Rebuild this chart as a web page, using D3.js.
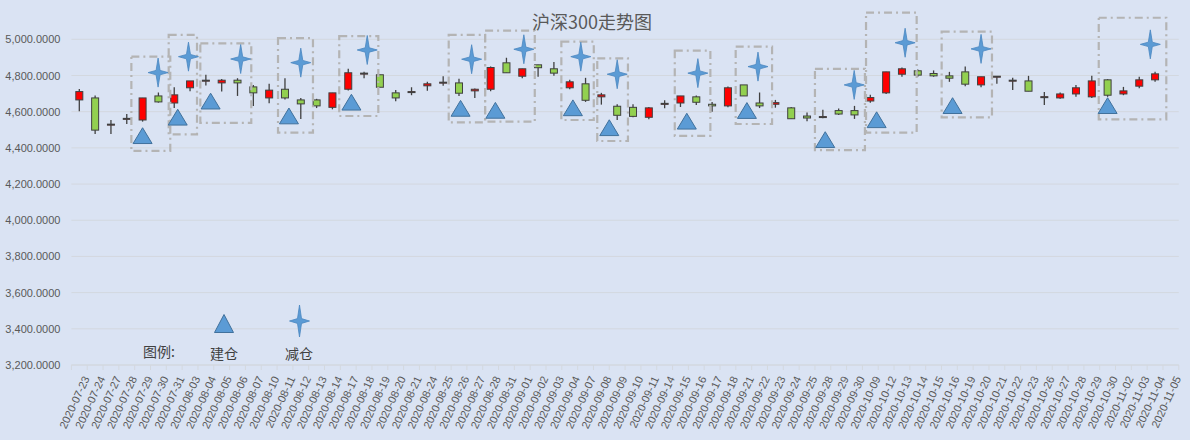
<!DOCTYPE html>
<html>
<head>
<meta charset="utf-8">
<script src="https://cdn.jsdelivr.net/npm/d3@7"></script>
<style>
  body { margin: 0; background: #dae3f3; }
  svg { display: block; }
  .grid line { stroke: #d3d8df; }
  .ylab { font: 11px "Liberation Sans", Arial, sans-serif; fill: #595959; }
  .xlab { font: 11px "Liberation Sans", Arial, sans-serif; fill: #595959; }
  .title { font: 18px "Noto Sans CJK SC", sans-serif; fill: #595959; }
  .legend { font: 14px "Noto Sans CJK SC", sans-serif; fill: #404040; }
</style>
</head>
<body>
<div id="chart"></div>
<script>
var w = 1190;
var h = 440;

// trading days on the category axis
var dates = ["2020-07-23","2020-07-24","2020-07-27","2020-07-28","2020-07-29","2020-07-30","2020-07-31",
  "2020-08-03","2020-08-04","2020-08-05","2020-08-06","2020-08-07","2020-08-10","2020-08-11","2020-08-12",
  "2020-08-13","2020-08-14","2020-08-17","2020-08-18","2020-08-19","2020-08-20","2020-08-21","2020-08-24",
  "2020-08-25","2020-08-26","2020-08-27","2020-08-28","2020-08-31","2020-09-01","2020-09-02","2020-09-03",
  "2020-09-04","2020-09-07","2020-09-08","2020-09-09","2020-09-10","2020-09-11","2020-09-14","2020-09-15",
  "2020-09-16","2020-09-17","2020-09-18","2020-09-21","2020-09-22","2020-09-23","2020-09-24","2020-09-25",
  "2020-09-28","2020-09-29","2020-09-30","2020-10-09","2020-10-12","2020-10-13","2020-10-14","2020-10-15",
  "2020-10-16","2020-10-19","2020-10-20","2020-10-21","2020-10-22","2020-10-23","2020-10-26","2020-10-27",
  "2020-10-28","2020-10-29","2020-10-30","2020-11-02","2020-11-03","2020-11-04","2020-11-05"];

// open, high, low, close (null = no candle)
var opens  = [4665,4676,4530,4563,4554,4687,4648,4732,4774,4759,4774,4737,4676,4724,4665,4665,4624,4724,4813,4804,
  4704,4711,4743,4763,4759,4715,4724,4870,4796,4859,4837,4732,4754,4682,4630,4624,4569,4646,4648,4682,
  4641,4632,4748,4648,4641,4621,4576,4573,4606,4606,4659,4704,4807,4826,4811,4798,4820,4748,4796,4774,
  4770,4683,4676,4698,4682,4776,4698,4741,4776,null];
var highs  = [4726,4689,4554,4587,4676,4706,4735,4770,4804,4780,4785,4748,4754,4785,4676,4671,4704,4837,4820,4804,
  4720,4735,4765,4796,4782,4728,4850,4898,4837,4859,4874,4776,4787,4704,4641,4641,4626,4663,4687,4689,
  4654,4739,4748,4706,4665,4626,4595,4611,4617,4632,4693,4820,4844,4833,4828,4820,4850,4793,4796,4787,
  4798,4709,4706,4748,4798,4780,4737,4793,4820,null];
var lows   = [4602,4476,4476,4532,4545,4650,4620,4713,4745,4711,4687,4632,4646,4667,4560,4620,4613,4717,4785,4735,
  4658,4691,4715,4743,4687,4676,4713,4815,4785,4793,4798,4724,4654,4639,4554,4569,4558,4619,4626,4637,
  4600,4624,4687,4620,4622,4561,4547,4563,4582,4560,4650,4698,4793,4793,4793,4765,4741,4735,4754,4720,
  4713,4637,4672,4682,4676,4682,4691,4730,4765,null];
var closes = [4711,4498,4531,4563,4676,4654,4693,4770,4774,4774,4759,4704,4719,4676,4643,4632,4704,4815,4813,4735,
  4676,4711,4754,4763,4702,4724,4844,4815,4837,4843,4813,4765,4663,4693,4580,4574,4621,4646,4687,4652,
  4632,4732,4687,4632,4650,4561,4565,4573,4587,4582,4678,4820,4837,4802,4798,4785,4752,4793,4796,4774,
  4713,4683,4698,4732,4770,4691,4715,4776,4809,null];

// 建仓 markers: position along the category axis (index) and price
var buyPos   = [4.0, 6.22, 8.3, 13.25, 17.2, 24.1, 26.3, 31.2, 33.5, 38.4, 42.2, 47.15, 50.4, 55.2, 65.0];
var buyVal   = [4467,4569,4658,4576,4652,4618,4607,4621,4511,4547,4606,4445,4555,4633,4633];
// 减仓 markers
var sellPos  = [4.98, 6.9, 10.2, 14.0, 18.2, 24.8, 28.1, 31.7, 34.0, 39.1, 42.9, 48.98, 52.2, 57.0, 67.7];
var sellVal  = [4816,4904,4891,4871,4941,4890,4945,4904,4807,4813,4849,4748,4981,4947,4972];

// dashed frames: from/to index, top/bottom price
var boxFrom  = [3.29,5.65,7.65,12.56,16.43,23.35,25.65,30.47,32.74,37.64,41.49,46.5,49.73,54.51,64.44];
var boxTo    = [5.75,7.44,10.87,14.77,18.9,25.65,28.79,32.52,34.68,39.89,43.79,49.66,52.93,57.69,68.71];
var boxTop   = [4904,5024,4978,5006,5018,5024,5048,4987,4895,4937,4959,4836,5147,5042,5119];
var boxBot   = [4383,4475,4538,4484,4576,4541,4545,4554,4438,4466,4532,4388,4484,4569,4558];

var yTicks = [3200,3400,3600,3800,4000,4200,4400,4600,4800,5000];

var candles = dates.map(function(d, i) {
  return { date: d, open: opens[i], high: highs[i], low: lows[i], close: closes[i] };
}).filter(function(d) { return d.open != null; });

var svg = d3.select("#chart").append("svg")
  .attr("width", w).attr("height", h);

var xScale = d3.scaleBand().domain(dates).range([71.4, 1178.8]).padding(0);
var yScale = d3.scaleLinear().domain([3200, 5000]).range([365, 39.3]);

// fractional index along the category axis -> pixel
function xPos(p) { return xScale.range()[0] + (p + 0.5) * xScale.step(); }

// gridlines
svg.append("g").attr("class", "grid")
  .selectAll("line").data(yTicks).enter().append("line")
  .attr("x1", 71.4).attr("x2", 1178.8)
  .attr("y1", function(d) { return yScale(d); })
  .attr("y2", function(d) { return yScale(d); });

// y labels
var yAxis = d3.axisLeft(yScale).tickValues(yTicks).tickFormat(d3.format(",.4f")).tickSize(0).tickPadding(11);
var yg = svg.append("g").attr("transform", "translate(71.4,0)").call(yAxis);
yg.select(".domain").remove();
yg.selectAll("text").attr("class", "ylab").attr("fill", null).attr("font-size", null).attr("font-family", null);

// x axis: category boundary ticks
var xg = svg.append("g");
xg.append("line").attr("x1", 71.4).attr("x2", 1178.8).attr("y1", 365).attr("y2", 365)
  .attr("stroke", "#d3d8df");
xg.selectAll("line.tk").data(dates.concat(["end"])).enter().append("line")
  .attr("class", "tk")
  .attr("x1", function(d) { return d === "end" ? xScale.range()[1] : xScale(d); })
  .attr("x2", function(d) { return d === "end" ? xScale.range()[1] : xScale(d); })
  .attr("y1", 365).attr("y2", 370)
  .attr("stroke", "#d3d8df");
xg.selectAll("text").data(dates).enter().append("text")
  .attr("class", "xlab")
  .attr("text-anchor", "end")
  .attr("transform", function(d) {
    return "translate(" + (xScale(d) + xScale.bandwidth() / 2 + 10.5) + ",378.5) rotate(-65)";
  })
  .text(function(d) { return d; });

// candles
var cg = svg.append("g");
cg.selectAll("line.wick").data(candles).enter().append("line")
  .attr("class", "wick")
  .attr("x1", function(d) { return xScale(d.date) + xScale.bandwidth() / 2; })
  .attr("x2", function(d) { return xScale(d.date) + xScale.bandwidth() / 2; })
  .attr("y1", function(d) { return yScale(d.high); })
  .attr("y2", function(d) { return yScale(d.low); })
  .attr("stroke", "#404040").attr("stroke-width", 1.3);

var bodyW = 7;
cg.selectAll("rect.body").data(candles).enter().append("rect")
  .attr("class", "body")
  .attr("x", function(d) { return xScale(d.date) + xScale.bandwidth() / 2 - bodyW / 2; })
  .attr("y", function(d) { return yScale(Math.max(d.open, d.close)); })
  .attr("width", bodyW)
  .attr("height", function(d) { return Math.max(1, Math.abs(yScale(d.open) - yScale(d.close))); })
  .attr("fill", function(d) { return d.close >= d.open ? "#ff0000" : "#92d050"; })
  .attr("stroke", "#404040").attr("stroke-width", 1);

// shapes for the markers
var triPath = "M0,-8 L9.5,7.8 L-9.5,7.8 Z";
var starPath = "M0,-14.5 L2,-2.2 L10,0 L2,2.2 L0,14.5 L-2,2.2 L-10,0 L-2,-2.2 Z";

// dashed frames
svg.append("g").selectAll("rect").data(boxFrom).enter().append("rect")
  .attr("x", function(d) { return xPos(d); })
  .attr("y", function(d, i) { return yScale(boxTop[i]); })
  .attr("width", function(d, i) { return xPos(boxTo[i]) - xPos(d); })
  .attr("height", function(d, i) { return yScale(boxBot[i]) - yScale(boxTop[i]); })
  .attr("fill", "none")
  .attr("stroke", "#b4b4b4").attr("stroke-width", 2.2)
  .attr("stroke-dasharray", "8,4,2,4");

// 建仓 triangles
svg.append("g").selectAll("path").data(buyPos).enter().append("path")
  .attr("d", triPath)
  .attr("transform", function(d, i) { return "translate(" + xPos(d) + "," + yScale(buyVal[i]) + ")"; })
  .attr("fill", "#5b9bd5").attr("stroke", "#41719c").attr("stroke-width", 1);

// 减仓 stars
svg.append("g").selectAll("path").data(sellPos).enter().append("path")
  .attr("d", starPath)
  .attr("transform", function(d, i) { return "translate(" + xPos(d) + "," + yScale(sellVal[i]) + ")"; })
  .attr("fill", "#5b9bd5").attr("stroke", "#4a86c0").attr("stroke-width", 0.8);

// title
svg.append("text").attr("class", "title")
  .attr("x", 592).attr("y", 29).attr("text-anchor", "middle")
  .text("沪深300走势图");

// legend
var lg = svg.append("g");
lg.append("text").attr("class", "legend").attr("x", 143).attr("y", 357).text("图例:");
lg.append("path").attr("d", "M0,-9 L9.5,9 L-9.5,9 Z")
  .attr("transform", "translate(224,323.5)")
  .attr("fill", "#5b9bd5").attr("stroke", "#41719c").attr("stroke-width", 1);
lg.append("text").attr("class", "legend").attr("x", 224).attr("y", 359).attr("text-anchor", "middle").text("建仓");
lg.append("path").attr("d", "M0,-16 L2,-2.4 L10,0 L2,2.4 L0,16 L-2,2.4 L-10,0 L-2,-2.4 Z")
  .attr("transform", "translate(299.5,321)")
  .attr("fill", "#5b9bd5").attr("stroke", "#4a86c0").attr("stroke-width", 0.8);
lg.append("text").attr("class", "legend").attr("x", 299).attr("y", 359).attr("text-anchor", "middle").text("减仓");
</script>
</body>
</html>
